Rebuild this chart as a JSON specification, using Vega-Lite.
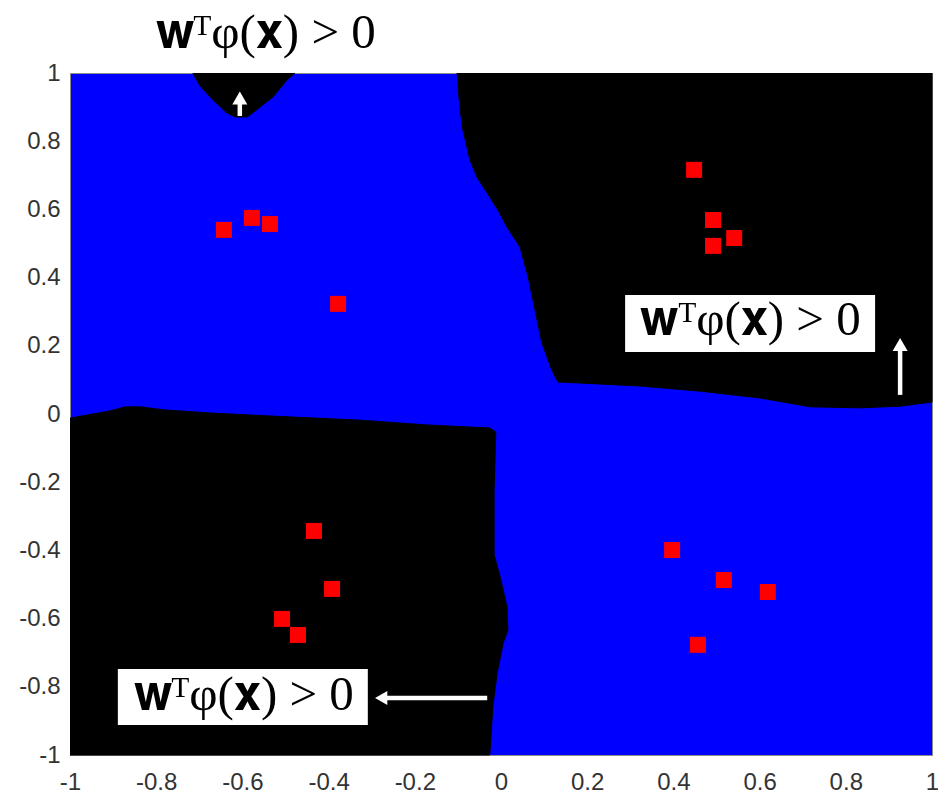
{
  "$schema": "https://vega.github.io/schema/vega-lite/v6.json",
  "width": 862,
  "height": 682,
  "autosize": "none",
  "padding": {"left": 70, "top": 73, "right": 6, "bottom": 40},
  "background": "white",
  "config": {
    "view": {"fill": "#0000FF", "stroke": "#8a8a8a", "strokeWidth": 1},
    "axis": {
      "grid": false, "ticks": false, "domain": false,
      "labelFont": "Liberation Sans", "labelFontSize": 24, "labelColor": "#333333"
    }
  },
  "datasets": {
    "regions": [
      {"r": "A", "i": 0, "x": -0.715, "y": 1.0},
      {"r": "A", "i": 1, "x": -0.698, "y": 0.962},
      {"r": "A", "i": 2, "x": -0.668, "y": 0.921},
      {"r": "A", "i": 3, "x": -0.636, "y": 0.883},
      {"r": "A", "i": 4, "x": -0.617, "y": 0.871},
      {"r": "A", "i": 5, "x": -0.589, "y": 0.871},
      {"r": "A", "i": 6, "x": -0.559, "y": 0.900},
      {"r": "A", "i": 7, "x": -0.529, "y": 0.930},
      {"r": "A", "i": 8, "x": -0.497, "y": 0.979},
      {"r": "A", "i": 9, "x": -0.478, "y": 1.0},
      {"r": "B", "i": 0, "x": -0.102, "y": 1.0},
      {"r": "B", "i": 1, "x": -0.097, "y": 0.921},
      {"r": "B", "i": 2, "x": -0.090, "y": 0.842},
      {"r": "B", "i": 3, "x": -0.072, "y": 0.745},
      {"r": "B", "i": 4, "x": -0.056, "y": 0.695},
      {"r": "B", "i": 5, "x": -0.032, "y": 0.648},
      {"r": "B", "i": 6, "x": -0.007, "y": 0.598},
      {"r": "B", "i": 7, "x": 0.014, "y": 0.548},
      {"r": "B", "i": 8, "x": 0.044, "y": 0.490},
      {"r": "B", "i": 9, "x": 0.063, "y": 0.402},
      {"r": "B", "i": 10, "x": 0.079, "y": 0.305},
      {"r": "B", "i": 11, "x": 0.095, "y": 0.208},
      {"r": "B", "i": 12, "x": 0.118, "y": 0.129},
      {"r": "B", "i": 13, "x": 0.132, "y": 0.094},
      {"r": "B", "i": 14, "x": 0.323, "y": 0.082},
      {"r": "B", "i": 15, "x": 0.462, "y": 0.067},
      {"r": "B", "i": 16, "x": 0.601, "y": 0.047},
      {"r": "B", "i": 17, "x": 0.717, "y": 0.021},
      {"r": "B", "i": 18, "x": 0.833, "y": 0.018},
      {"r": "B", "i": 19, "x": 0.926, "y": 0.023},
      {"r": "B", "i": 20, "x": 1.0, "y": 0.035},
      {"r": "B", "i": 21, "x": 1.0, "y": 1.0},
      {"r": "C", "i": 0, "x": -1.0, "y": -0.012},
      {"r": "C", "i": 1, "x": -0.907, "y": 0.009},
      {"r": "C", "i": 2, "x": -0.872, "y": 0.021},
      {"r": "C", "i": 3, "x": -0.838, "y": 0.021},
      {"r": "C", "i": 4, "x": -0.780, "y": 0.012},
      {"r": "C", "i": 5, "x": -0.675, "y": 0.003},
      {"r": "C", "i": 6, "x": -0.483, "y": -0.009},
      {"r": "C", "i": 7, "x": -0.327, "y": -0.018},
      {"r": "C", "i": 8, "x": -0.172, "y": -0.032},
      {"r": "C", "i": 9, "x": -0.026, "y": -0.041},
      {"r": "C", "i": 10, "x": -0.012, "y": -0.053},
      {"r": "C", "i": 11, "x": -0.016, "y": -0.223},
      {"r": "C", "i": 12, "x": -0.016, "y": -0.413},
      {"r": "C", "i": 13, "x": -0.002, "y": -0.478},
      {"r": "C", "i": 14, "x": 0.014, "y": -0.566},
      {"r": "C", "i": 15, "x": 0.016, "y": -0.633},
      {"r": "C", "i": 16, "x": 0.005, "y": -0.672},
      {"r": "C", "i": 17, "x": -0.009, "y": -0.760},
      {"r": "C", "i": 18, "x": -0.019, "y": -0.859},
      {"r": "C", "i": 19, "x": -0.026, "y": -1.0},
      {"r": "C", "i": 20, "x": -1.0, "y": -1.0}
    ],
    "points": [
      {"x": -0.643, "y": 0.540}, {"x": -0.578, "y": 0.575}, {"x": -0.536, "y": 0.557}, {"x": -0.378, "y": 0.323},
      {"x": 0.448, "y": 0.716}, {"x": 0.492, "y": 0.569}, {"x": 0.541, "y": 0.516}, {"x": 0.492, "y": 0.493},
      {"x": -0.434, "y": -0.343}, {"x": -0.392, "y": -0.513}, {"x": -0.508, "y": -0.601}, {"x": -0.471, "y": -0.648},
      {"x": 0.397, "y": -0.399}, {"x": 0.517, "y": -0.487}, {"x": 0.619, "y": -0.522}, {"x": 0.457, "y": -0.677}
    ],
    "boxes": [
      {"x": 0.288, "x2": 0.868, "y": 0.349, "y2": 0.182},
      {"x": -0.889, "x2": -0.309, "y": -0.748, "y2": -0.912}
    ],
    "labels": [
      {"x": -0.546, "y": 1.073, "t": "𝐰ᵀφ(𝐱) > 0"},
      {"x": 0.579, "y": 0.232, "t": "𝐰ᵀφ(𝐱) > 0"},
      {"x": -0.597, "y": -0.868, "t": "𝐰ᵀφ(𝐱) > 0"}
    ],
    "shafts": [
      {"x": -0.606, "x2": -0.606, "y": 0.874, "y2": 0.921},
      {"x": 0.926, "x2": 0.926, "y": 0.056, "y2": 0.194},
      {"x": -0.269, "x2": -0.032, "y": -0.833, "y2": -0.833}
    ],
    "headsUp": [
      {"x": -0.606, "y": 0.927},
      {"x": 0.926, "y": 0.204}
    ],
    "headsLeft": [
      {"x": -0.278, "y": -0.833}
    ]
  },
  "encoding": {
    "x": {"field": "x", "type": "quantitative",
      "scale": {"domain": [-1, 1], "nice": false, "zero": false},
      "axis": {"title": null, "values": [-1, -0.8, -0.6, -0.4, -0.2, 0, 0.2, 0.4, 0.6, 0.8, 1], "format": ".1~f",
        "labelExpr": "replace(datum.label, '−', '-')", "labelFlush": false, "labelPadding": 15, "labelOverlap": false}},
    "y": {"field": "y", "type": "quantitative",
      "scale": {"domain": [-1, 1], "nice": false, "zero": false},
      "axis": {"title": null, "values": [-1, -0.8, -0.6, -0.4, -0.2, 0, 0.2, 0.4, 0.6, 0.8, 1], "format": ".1~f",
        "labelExpr": "replace(datum.label, '−', '-')", "labelFlush": false, "labelPadding": 10, "labelOverlap": false}}
  },
  "layer": [
    {
      "data": {"name": "regions"},
      "mark": {"type": "line", "filled": true, "fill": "#000000", "stroke": "#000000", "strokeWidth": 1, "interpolate": "linear"},
      "encoding": {
        "detail": {"field": "r", "type": "nominal"},
        "order": {"field": "i", "type": "quantitative"}
      }
    },
    {
      "data": {"name": "boxes"},
      "mark": {"type": "rect", "fill": "#ffffff"},
      "encoding": {
        "x2": {"field": "x2"},
        "y2": {"field": "y2"}
      }
    },
    {
      "data": {"name": "shafts"},
      "mark": {"type": "rule", "color": "#ffffff", "strokeWidth": 4.5},
      "encoding": {
        "x2": {"field": "x2"},
        "y2": {"field": "y2"}
      }
    },
    {
      "data": {"name": "headsUp"},
      "mark": {"type": "point", "shape": "triangle-up", "filled": true, "color": "#ffffff", "opacity": 1, "size": 225, "strokeWidth": 0}
    },
    {
      "data": {"name": "headsLeft"},
      "mark": {"type": "point", "shape": "triangle-left", "filled": true, "color": "#ffffff", "opacity": 1, "size": 200, "strokeWidth": 0}
    },
    {
      "data": {"name": "points"},
      "mark": {"type": "point", "shape": "square", "filled": true, "color": "#ff0000", "opacity": 1, "size": 256, "strokeWidth": 0}
    },
    {
      "data": {"name": "labels"},
      "mark": {"type": "text", "font": "Liberation Serif", "fontSize": 49, "color": "#000000", "align": "center", "baseline": "alphabetic"},
      "encoding": {"text": {"field": "t", "type": "nominal"}}
    }
  ]
}
